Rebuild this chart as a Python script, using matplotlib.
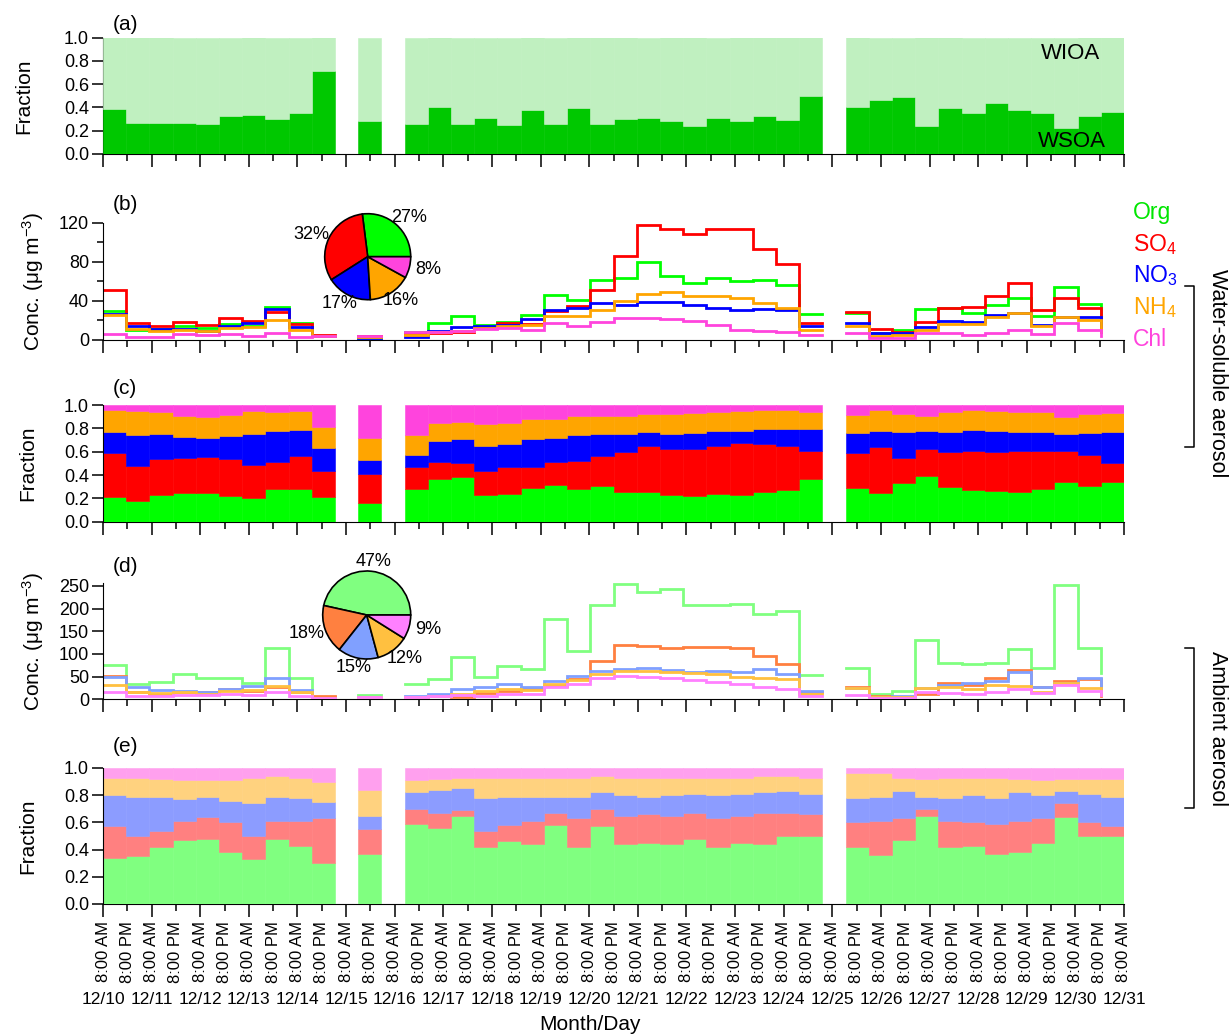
import numpy as np
import matplotlib
matplotlib.use('Agg')
import matplotlib.pyplot as plt
from matplotlib.transforms import blended_transform_factory

plt.rcParams['font.family'] = ['Liberation Sans', 'DejaVu Sans']
plt.rcParams['mathtext.fontset'] = 'custom'
plt.rcParams['mathtext.rm'] = 'Liberation Sans'
plt.rcParams['mathtext.it'] = 'Liberation Sans:italic'

# 12/10 08:00 -> 12/31 08:00 divided into 44 sampling periods
n_periods = 44
span_hours = 21 * 24
periods = list(range(0, 10)) + [11] + list(range(13, 31)) + list(range(32, 44))
days = ['12/%d' % d for d in range(10, 32)]

# (a) water-soluble fraction of organic aerosol
wsoa_frac = [0.387, 0.27, 0.27, 0.265, 0.26, 0.324, 0.335, 0.298, 0.35, 0.714,
             0.286,
             0.255, 0.40, 0.26, 0.31, 0.25, 0.378, 0.26, 0.396, 0.254, 0.30, 0.31, 0.287,
             0.24, 0.31, 0.284, 0.326, 0.293, 0.499,
             0.40, 0.467, 0.487, 0.24, 0.395, 0.35, 0.44, 0.38, 0.35, 0.22, 0.33, 0.36]

# (b) water-soluble species, ug m-3
ws_org = [29, 10, 10.5, 14, 12, 16, 14, 34, 17, 4.2,
          2.2,
          7.5, 17, 24, 15, 18, 25, 46, 41, 61, 63, 80, 65, 58, 63, 60, 61, 56, 26,
          27, 7, 10, 31, 32, 27, 36, 43, 24, 54, 37, 17]
ws_so4 = [51, 17, 14, 18, 15, 22, 19, 28, 16.5, 4.6,
          3.5,
          5.5, 7, 8, 13, 17, 16, 29, 35, 51, 86, 118, 114, 108, 114, 114, 93, 78, 17.5,
          28, 10.6, 8, 18.5, 32, 34, 45, 58.5, 30, 43, 33, 8]
ws_no3 = [26, 14.5, 10.5, 11, 9, 14, 17.5, 31.5, 13.5, 3.8,
          1.8,
          3, 8.5, 13, 14, 15, 21, 30, 33, 37.5, 36, 39, 39, 35.5, 32.5, 30, 31.5, 30.5, 14,
          17, 6.5, 6.5, 13.3, 19, 18.5, 25.3, 27, 15, 23, 23, 14]
ws_nh4 = [25, 11, 8.6, 10.3, 8.5, 12.5, 13, 20, 10, 3.7,
          2.6,
          5, 7.5, 9, 12, 14, 15, 24, 24, 30, 39.3, 47, 48.5, 44.4, 44.4, 42.4, 37.3, 33, 10,
          14.4, 4.3, 4.5, 10, 16, 16, 23, 27.7, 14.4, 23.6, 20, 8]
ws_chl = [6, 3, 3, 5.4, 5, 6, 3.7, 7, 3, 3.7,
          4,
          7.5, 8, 9, 10.6, 12, 10, 17.5, 14, 18.5, 22, 22, 21, 19, 15, 10, 8.5, 7.9, 4.5,
          7.2, 1.8, 1.8, 7.2, 6.5, 4.8, 6.5, 10, 5.5, 16.8, 10, 4]
ws_pie = [27, 32, 17, 16, 8]

# (c) water-soluble mass fractions
ws_org_f = [.214, .18, .229, .243, .243, .22, .2, .283, .283, .209,
            .157,
            .277, .366, .38, .229, .24, .289, .314, .28, .306, .251, .257, .226, .217,
            .237, .229, .257, .274, .363,
            .291, .243, .329, .391, .297, .271, .263, .254, .277, .337, .306, .337]
ws_so4_f = [.372, .297, .305, .306, .311, .317, .286, .231, .277, .228,
            .249,
            .189, .145, .123, .205, .229, .182, .2, .24, .26, .349, .389, .397, .406,
            .414, .442, .406, .375, .243,
            .298, .397, .217, .232, .3, .335, .334, .352, .329, .269, .265, .163]
ws_no3_f = [.185, .266, .215, .18, .166, .197, .265, .263, .223, .192,
            .125,
            .105, .183, .206, .217, .194, .24, .203, .223, .185, .149, .123, .131, .137,
            .123, .109, .128, .145, .191,
            .168, .137, .225, .154, .174, .18, .183, .165, .165, .145, .192, .271]
ws_nh4_f = [.186, .206, .188, .177, .174, .18, .198, .166, .166, .185,
            .186,
            .172, .149, .142, .186, .18, .172, .163, .163, .155, .16, .154, .172, .174,
            .166, .169, .166, .16, .14,
            .16, .18, .155, .129, .166, .168, .169, .166, .166, .143, .16, .158]

# (d) ambient species, ug m-3
amb_org = [75, 34, 38, 55, 47, 48, 37, 113, 48, 6,
           9,
           34, 44, 93, 49, 74, 67, 178, 107, 207, 255, 236, 243, 208, 208, 210, 187, 195, 53,
           68, 12, 18, 130, 80, 77, 80, 110, 70, 252, 113, 58]
amb_so4 = [51, 16, 12, 16, 16, 22, 19, 27, 17, 7,
           3.5,
           6, 9, 6, 14, 19, 26, 30, 45, 85, 120, 118, 112, 115, 116, 113, 95, 78, 17,
           27, 8, 6, 12, 36, 31, 47, 65, 28, 40, 45, 8]
amb_no3 = [49, 27, 20, 19, 15, 23, 29, 46, 20, 3,
           3,
           7, 12, 23, 28, 34, 27, 40, 52, 62, 66, 69, 64, 60, 62, 60, 66, 56, 18,
           25, 6, 7, 25, 31, 35, 41, 61, 27, 36, 47, 25]
amb_nh4 = [31, 15, 13, 16, 12, 18, 20, 30, 15, 3,
           5,
           5, 7, 11, 18, 22, 21, 33, 42, 55, 62, 63, 60, 57, 55, 50, 47, 45, 12,
           25, 5, 4, 26, 28, 23, 32, 29, 17, 35, 25, 15]
amb_chl = [15, 8, 8, 10, 9, 12, 9, 16, 8, 2,
           4,
           6, 7, 10, 8, 11, 11, 27, 34, 48, 52, 50, 46, 42, 38, 33, 28, 23, 8,
           10, 2, 3, 16, 13, 12, 15, 23, 14, 31, 18, 9]
amb_pie = [47, 18, 15, 12, 9]

# (e) ambient mass fractions
amb_org_f = [.34, .35, .42, .47, .48, .38, .33, .48, .43, .30,
             .37,
             .59, .56, .65, .42, .46, .44, .58, .42, .57, .44, .45, .44, .48, .42, .45,
             .44, .50, .50,
             .42, .36, .47, .65, .42, .43, .37, .38, .45, .64, .50, .50]
amb_so4_f = [.23, .15, .12, .14, .16, .22, .17, .13, .18, .33,
             .18,
             .11, .11, .04, .12, .12, .17, .09, .21, .13, .21, .21, .21, .19, .21, .20,
             .23, .17, .16,
             .18, .25, .16, .05, .19, .17, .22, .23, .18, .10, .10, .07]
amb_no3_f = [.23, .29, .25, .16, .15, .16, .24, .18, .17, .12,
             .10,
             .12, .17, .16, .24, .21, .18, .12, .16, .12, .15, .13, .15, .14, .17, .16,
             .15, .16, .15,
             .18, .18, .20, .09, .17, .20, .19, .21, .17, .09, .21, .22]
amb_nh4_f = [.13, .14, .13, .14, .12, .15, .19, .15, .15, .15,
             .19,
             .09, .08, .08, .15, .14, .14, .14, .14, .12, .13, .14, .13, .12, .13, .12,
             .12, .11, .12,
             .18, .17, .10, .13, .15, .13, .15, .10, .11, .09, .11, .13]

species = ['Org', 'SO$_4$', 'NO$_3$', 'NH$_4$', 'Chl']
ws_colors = ['#00ff00', '#ff0000', '#0000ff', '#ffa500', '#ff44dd']
amb_colors = ['#80ff80', '#ff8040', '#80a0ff', '#ffc040', '#ff80ff']
amb_fill = ['#80ff80', '#ff8080', '#8c9cff', '#ffd27f', '#ffa0ee']
legend_colors = ['#00e600', '#ff0000', '#0000ff', '#ffa500', '#ff44dd']

W, H = 1229, 1035
fig = plt.figure(figsize=(W / 100, H / 100), dpi=100)

def px_axes(left, top, right, bottom):
    return fig.add_axes([left / W, 1 - bottom / H, (right - left) / W, (bottom - top) / H])

slot_w = span_hours / n_periods
x_start = np.array(periods) * slot_w
x_left, x_right = 103, 1124


def style_axis(ax, show_dates=False):
    ax.set_xlim(0, span_hours)
    ax.spines['top'].set_visible(False)
    ax.spines['right'].set_visible(False)
    ax.spines['bottom'].set_zorder(0.5)
    ax.set_xticks(np.arange(0, span_hours + 1, 24))
    ax.set_xticks(np.arange(12, span_hours, 24), minor=True)
    ax.tick_params(axis='x', which='major', direction='out', length=9, width=1.1)
    ax.tick_params(axis='x', which='minor', direction='out', length=4.8, width=1.1)
    ax.tick_params(axis='y', which='major', direction='out', length=8, width=1.1,
                   labelsize=13, pad=2)
    ax.tick_params(axis='y', which='minor', direction='out', length=4, width=1.1)
    if show_dates:
        ax.set_xticklabels(['8:00 AM'] * 22, rotation=90, fontsize=12)
        ax.set_xticklabels(['8:00 PM'] * 21, minor=True, rotation=90, fontsize=12)
        ax.tick_params(axis='x', which='major', pad=3.5)
        ax.tick_params(axis='x', which='minor', pad=7.7)
        tr = blended_transform_factory(ax.transData, fig.transFigure)
        for k, d in enumerate(days):
            ax.text(k * 24, 1 - 1000 / H, d, transform=tr, ha='center', va='center',
                    fontsize=12.5)
    else:
        ax.set_xticklabels([])
        ax.set_xticklabels([], minor=True)


def fraction_ticks(ax):
    ax.set_ylim(0, 1)
    ax.set_yticks(np.arange(0, 1.01, 0.2))
    ax.set_yticklabels(['%.1f' % v for v in np.arange(0, 1.01, 0.2)])


def stacked_bars(ax, fracs, colors):
    bottom = np.zeros(len(periods))
    rest = 1 - np.sum(fracs, axis=0)
    for vals, c in zip(list(fracs) + [rest], colors):
        vals = np.asarray(vals)
        ax.bar(x_start, vals, width=slot_w, bottom=bottom, align='edge', color=c,
               edgecolor=c, linewidth=0.4, zorder=1)
        bottom = bottom + vals


def step_lines(ax, series, colors, lw):
    p = np.array(periods)
    runs = np.split(np.arange(len(p)), np.where(np.diff(p) > 1)[0] + 1)
    for vals, c in zip(series, colors):
        vals = np.asarray(vals, float)
        for r, idx in enumerate(runs):
            xs = x_start[idx]
            ys = vals[idx]
            if r < len(runs) - 1:
                # close the run at the end of its last period
                xs = np.append(xs, xs[-1] + slot_w)
                ys = np.append(ys, ys[-1])
            ax.plot(xs, ys, drawstyle='steps-post', color=c, lw=lw, zorder=2,
                    solid_joinstyle='miter')


def add_pie(cx, cy, r, vals, colors):
    pax = px_axes(cx - r, cy - r, cx + r, cy + r)
    wedges, _ = pax.pie(vals, colors=colors, startangle=0, counterclock=True,
                        wedgeprops=dict(edgecolor='black', linewidth=1.2))
    pax.set_xlim(-1, 1)
    pax.set_ylim(-1, 1)
    for w, v in zip(wedges, vals):
        ang = np.deg2rad((w.theta1 + w.theta2) / 2)
        pax.text(1.45 * np.cos(ang), 1.22 * np.sin(ang), '%d%%' % v,
                 ha='center', va='center', fontsize=13, clip_on=False)


def panel_label(ax, s, y_px):
    fig.text(125 / W, 1 - y_px / H, s, ha='center', va='center', fontsize=15)


# (a) WSOA / WIOA
ax_a = px_axes(x_left, 37.5, x_right, 154)
wsoa = np.array(wsoa_frac)
ax_a.bar(x_start, wsoa, width=slot_w, align='edge', color='#00c800',
         edgecolor='#00c800', linewidth=0.4, zorder=1)
ax_a.bar(x_start, 1 - wsoa, bottom=wsoa, width=slot_w, align='edge', color='#c0f0c0',
         edgecolor='#c0f0c0', linewidth=0.4, zorder=1)
fraction_ticks(ax_a)
style_axis(ax_a)
ax_a.spines['left'].set_zorder(0.5)
ax_a.text(0.977, 0.86, 'WIOA', transform=ax_a.transAxes, ha='right', va='center',
          fontsize=16)
ax_a.text(0.982, 0.11, 'WSOA', transform=ax_a.transAxes, ha='right', va='center',
          fontsize=16)
ax_a.set_ylabel('Fraction', fontsize=15, va='center')
ax_a.yaxis.set_label_coords((24 - x_left) / (x_right - x_left), 0.5)
panel_label(ax_a, '(a)', 24)

# (b) water-soluble concentrations
ax_b = px_axes(x_left, 222.7, x_right, 339.7)
step_lines(ax_b, [ws_org, ws_so4, ws_no3, ws_nh4, ws_chl], ws_colors, 2.0)
ax_b.set_ylim(0, 120)
ax_b.set_yticks([0, 40, 80, 120])
ax_b.set_yticks([20, 60, 100], minor=True)
style_axis(ax_b)
ax_b.set_ylabel('Conc. (μg m$^{-3}$)', fontsize=15, va='center')
ax_b.yaxis.set_label_coords((33 - x_left) / (x_right - x_left), 0.5)
panel_label(ax_b, '(b)', 204)
for k, (name, c) in enumerate(zip(species, legend_colors)):
    fig.text(1133 / W, 1 - (213 + 31.5 * k) / H, name, color=c, fontsize=16.5,
             ha='left', va='center')
add_pie(367.7, 256.7, 43, ws_pie, ws_colors)

# (c) water-soluble fractions
ax_c = px_axes(x_left, 405, x_right, 521.7)
stacked_bars(ax_c, [ws_org_f, ws_so4_f, ws_no3_f, ws_nh4_f], ws_colors)
fraction_ticks(ax_c)
style_axis(ax_c)
ax_c.set_ylabel('Fraction', fontsize=15, va='center')
ax_c.yaxis.set_label_coords((28 - x_left) / (x_right - x_left), 0.5)
panel_label(ax_c, '(c)', 389)

# (d) ambient concentrations
ax_d = px_axes(x_left, 582.7, x_right, 699.3)
step_lines(ax_d, [amb_org, amb_so4, amb_no3, amb_nh4, amb_chl], amb_colors, 2.0)
ax_d.set_ylim(0, 257)
ax_d.set_yticks([0, 50, 100, 150, 200, 250])
style_axis(ax_d)
ax_d.set_ylabel('Conc. (μg m$^{-3}$)', fontsize=15, va='center')
ax_d.yaxis.set_label_coords((33 - x_left) / (x_right - x_left), 0.5)
panel_label(ax_d, '(d)', 566)
add_pie(366.7, 615, 44, amb_pie, amb_colors)

# (e) ambient fractions
ax_e = px_axes(x_left, 768, x_right, 904)
stacked_bars(ax_e, [amb_org_f, amb_so4_f, amb_no3_f, amb_nh4_f], amb_fill)
fraction_ticks(ax_e)
style_axis(ax_e, show_dates=True)
ax_e.set_ylabel('Fraction', fontsize=15, va='center')
ax_e.yaxis.set_label_coords((28 - x_left) / (x_right - x_left), 0.5)
panel_label(ax_e, '(e)', 746)
fig.text(590 / W, 1 - 1025 / H, 'Month/Day', ha='center', va='center', fontsize=15)

# brackets grouping the panels on the right
for top, bot, mid, label in [(286, 447, 373, 'Water-soluble aerosol'),
                             (648, 808, 729, 'Ambient aerosol')]:
    xs = np.array([1185, 1194, 1194, 1185]) / W
    ys = 1 - np.array([top, top, bot, bot]) / H
    fig.add_artist(plt.Line2D(xs, ys, color='black', lw=1.1))
    fig.text(1218 / W, 1 - mid / H, label, rotation=-90, ha='center',
             va='center', fontsize=15.5)

fig.savefig('out.png', dpi=100)
